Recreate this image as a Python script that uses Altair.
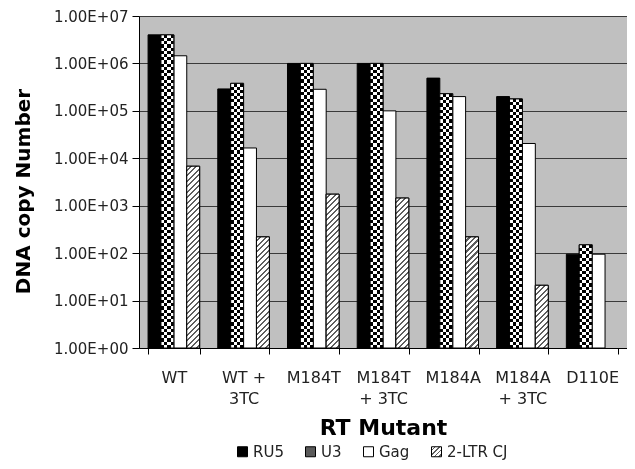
import json
import math
import altair as alt

# ---- data ----
CATEGORIES = ["WT", "WT +\n3TC", "M184T", "M184T\n+ 3TC", "M184A", "M184A\n+ 3TC", "D110E"]
SERIES = ["RU5", "U3", "Gag", "2-LTR CJ"]
RU5 = [4.0e6, 2.9e5, 1.0e6, 1.0e6, 4.9e5, 2.0e5, 95]
U3 = [4.0e6, 3.8e5, 1.0e6, 1.0e6, 2.3e5, 1.78e5, 1.5e2]
GAG = [1.45e6, 1.65e4, 2.85e5, 1.0e5, 2.0e5, 2.05e4, 95]
LTR = [6.8e3, 2.2e2, 1.75e3, 1.45e3, 2.2e2, 21, None]
Y_TICKS = [1, 10, 100, 1e3, 1e4, 1e5, 1e6, 1e7]

# ---- layout constants ----
W_PLOT, H_PLOT = 488, 332
PAD_INNER = 0.26
PX_DEC = H_PLOT / 7.0
BAR_W = W_PLOT / 7.0 * (1 - PAD_INNER) / 4.0
FONT = "DejaVu Sans"


def checker_rows(v, cell=3.2):
    """Horizontal stripe texture (combined with vertical stripes -> checker)."""
    h = math.log10(v) * PX_DEC
    n = max(2, int(round(h / cell)))
    stops = []
    for k in range(n):
        c = "#ffffff" if k % 2 == 0 else "#000000"
        stops += [{"offset": k / n, "color": c}, {"offset": (k + 1) / n, "color": c}]
    return {"gradient": "linear", "x1": 0, "y1": 0, "x2": 0, "y2": 1, "stops": stops}


def hatch(w, h, spacing=5.5, light="#ffffff", dark="#5e5e5e"):
    """Diagonal '/' hatch expressed as a bounding-box linear gradient."""
    lam = (w + h) / (w * w + h * h)
    n = (w + h) / spacing
    stops = []
    k = 0
    while k < n:
        a = k / n
        b = min((k + 0.62) / n, 1.0)
        c = min((k + 1) / n, 1.0)
        stops += [{"offset": a, "color": light}, {"offset": b, "color": light},
                  {"offset": b, "color": dark}, {"offset": c, "color": dark}]
        k += 1
    return {"gradient": "linear", "x1": 0, "y1": 0, "x2": lam * w, "y2": lam * h, "stops": stops}


VSTRIPES = {
    "gradient": "linear", "x1": 0, "y1": 0, "x2": 1, "y2": 0,
    "stops": [s for k in range(4) for s in (
        {"offset": k / 4, "color": "#000000" if k % 2 == 0 else "#ffffff"},
        {"offset": (k + 1) / 4, "color": "#000000" if k % 2 == 0 else "#ffffff"})],
}

rows = []
for s, vals in zip(SERIES, [RU5, U3, GAG, LTR]):
    for c, v in zip(CATEGORIES, vals):
        if v is None:
            continue
        r = {"category": c, "series": s, "value": v}
        if s == "U3":
            r["tex"] = checker_rows(v)
        elif s == "2-LTR CJ":
            r["tex"] = hatch(BAR_W, math.log10(v) * PX_DEC)
        rows.append(r)

data = alt.Data(values=rows)

legend_hatch_expr = json.dumps(hatch(10, 10, spacing=4.5))

x_enc = alt.X(
    "category:N",
    sort=CATEGORIES,
    scale=alt.Scale(domain=CATEGORIES, paddingInner=PAD_INNER, paddingOuter=PAD_INNER / 2),
    axis=alt.Axis(
        title="RT Mutant", titleFont=FONT, titleFontSize=22, titleFontWeight="bold",
        titleColor="black", titleY=86, titleBaseline="alphabetic",
        labelExpr="datum.value ? split(datum.value, '\\n') : ''", labelAngle=0,
        labelFont=FONT, labelFontSize=16, labelLineHeight=21, labelPadding=15,
        labelColor="#222222", labelBaseline="top",
        tickBand="extent", tickSize=6, tickColor="black", domainColor="black", grid=False,
    ),
)
xo_enc = alt.XOffset("series:N", scale=alt.Scale(domain=SERIES, paddingInner=0, paddingOuter=0))
y_enc = alt.Y(
    "value:Q",
    scale=alt.Scale(type="log", domain=[1, 1e7], nice=False),
    axis=alt.Axis(
        values=Y_TICKS, labelExpr="'1.00E+0' + round(log(datum.value) / LN10)",
        title="DNA copy Number", titleFont=FONT, titleFontSize=20, titleFontWeight="bold",
        titleColor="black", titleAngle=270, titleBaseline="bottom", titleAlign="center",
        titleX=-106, titleY=175,
        labelFont=FONT, labelFontSize=15, labelColor="#222222", labelPadding=4,
        tickSize=7, tickColor="black", domainColor="black",
        grid=True, gridColor="#3a3a3a", gridWidth=1,
    ),
)

base = alt.Chart(data).encode(x=x_enc, xOffset=xo_enc, y=y_enc, y2=alt.datum(1))

legend_bars = base.mark_bar(stroke="black", strokeWidth=1).encode(
    color=alt.Color(
        "series:N",
        scale=alt.Scale(domain=SERIES, range=["#000000", "#5a5a5a", "#ffffff",
                                              alt.ExprRef(expr=legend_hatch_expr)]),
        legend=alt.Legend(
            orient="none", legendX=96, legendY=428, direction="horizontal", title=None,
            symbolType="square", symbolSize=100, symbolStrokeColor="black",
            symbolStrokeWidth=1, symbolOpacity=1, labelFont=FONT, labelFontSize=15,
            labelColor="#222222", labelOffset=3, columnPadding=19, padding=0,
        ),
    )
)

u3 = base.transform_filter(alt.datum.series == "U3")
u3_cols = u3.mark_bar(fill=VSTRIPES, strokeWidth=0)
u3_rows = u3.mark_bar(blend="difference", strokeWidth=0).encode(fill=alt.Fill("tex:N", scale=None))
u3_outline = u3.mark_bar(fillOpacity=0, stroke="black", strokeWidth=1)

ltr = base.transform_filter(alt.datum.series == "2-LTR CJ").mark_bar(
    stroke="black", strokeWidth=1
).encode(fill=alt.Fill("tex:N", scale=None))

chart = (
    alt.layer(legend_bars, u3_cols, u3_rows, u3_outline, ltr)
    .properties(
        width=W_PLOT, height=H_PLOT,
        autosize=alt.AutoSizeParams(type="none"),
        padding={"left": 131, "top": 8, "right": 0, "bottom": 113},
    )
    .configure(font=FONT)
    .configure_view(fill="#c0c0c0", strokeWidth=0)
)

chart.save("out.html", embed_options={"renderer": "svg", "actions": False})
